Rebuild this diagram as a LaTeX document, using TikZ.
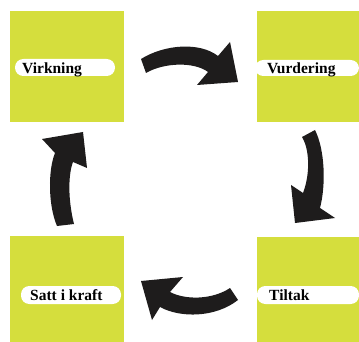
\documentclass[tikz,border=0pt]{standalone}
\usepackage{fontspec}
\setmainfont{Liberation Serif}
\definecolor{limegreen}{RGB}{213,222,61}
\definecolor{arrowblack}{RGB}{30,28,28}
\tikzset{
  square/.style={fill=limegreen},
  pill/.style={fill=white, rounded corners=8.3pt},
  label/.style={anchor=base west, inner sep=0pt, font=\fontsize{15.5}{18}\selectfont\bfseries, text=black},
  bigarrow/.style={fill=arrowblack}
}
\begin{document}
\begin{tikzpicture}[x=1pt,y=-1pt]
\useasboundingbox[fill=white] (0,0) rectangle (359,342);
% squares
\fill[square] (10,11) rectangle (124,122);
\fill[square] (257,11) rectangle (359,122);
\fill[square] (10,236) rectangle (124,342);
\fill[square] (257,237) rectangle (359,342);
% pills
\fill[pill] (15,59) rectangle (115,76);
\fill[pill] (359,60) -- (255,60) -- (255,76) -- (359,76) -- cycle;
\fill[pill] (21,286) rectangle (121,304);
\fill[pill] (359,286) -- (257,286) -- (257,304) -- (359,304) -- cycle;
% labels
\node[label] (virk) at (22,73.5) {Virkning};
\node[label] (vurd) at (267,73.5) {Vurdering};
\node[label] (satt) at (30,300.5) {Satt i kraft};
\node[label] (tilt) at (269,300.5) {Tiltak};
% arrows
\fill[bigarrow] (146,73) -- (141,59) .. controls (165,44) and (200,42) .. (218,56)
  -- (230,42) -- (238,82) -- (197,85) -- (208,72)
  .. controls (195,62) and (165,62) .. (146,73) -- cycle;
\fill[bigarrow] (302,137) -- (315,130) .. controls (325,150) and (326,185) .. (320,208)
  -- (335,218) -- (295,223) -- (291,185) -- (303,193)
  .. controls (310,175) and (310,150) .. (302,137) -- cycle;
\fill[bigarrow] (230,288) -- (238,300) .. controls (215,318) and (180,318) .. (160,307)
  -- (152,320) -- (141,281) -- (183,277) -- (170,292)
  .. controls (185,300) and (212,300) .. (230,288) -- cycle;
\fill[bigarrow] (57,226) -- (74,224) .. controls (68,200) and (68,175) .. (73,162)
  -- (87,168) -- (83,132) -- (42,139) -- (55,153)
  .. controls (48,170) and (48,205) .. (57,226) -- cycle;
\end{tikzpicture}
\end{document}
